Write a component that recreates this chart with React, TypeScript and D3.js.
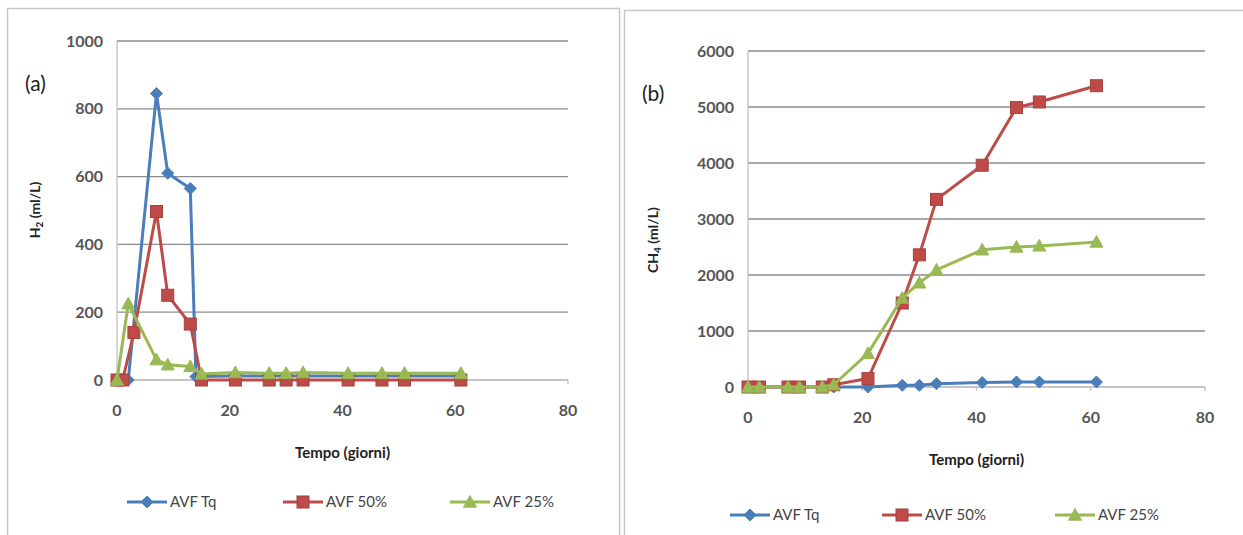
import React from "react";
import * as d3 from "d3";

// ---- Data (a): H2 ----
const daysTqA = [0, 2, 7, 9, 13, 14, 21, 27, 30, 33, 41, 47, 51, 61];
const tqA = [0, 0, 845, 610, 565, 10, 12, 12, 12, 12, 12, 12, 12, 12];
const days50A = [0, 1, 3, 7, 9, 13, 15, 21, 27, 30, 33, 41, 47, 51, 61];
const v50A = [0, 0, 140, 497, 250, 165, 0, 0, 0, 0, 0, 0, 0, 0, 0];
const days25A = [0, 2, 7, 9, 13, 15, 21, 27, 30, 33, 41, 47, 51, 61];
const v25A = [0, 225, 60, 45, 40, 18, 22, 20, 20, 22, 20, 20, 20, 20];

// ---- Data (b): CH4 ----
const daysB = [0, 2, 7, 9, 13, 15, 21, 27, 30, 33, 41, 47, 51, 61];
const tqB = [0, 0, 0, 0, 0, 0, 0, 30, 30, 60, 80, 90, 90, 90];
const v50B = [0, 0, 0, 0, 0, 40, 150, 1500, 2360, 3350, 3960, 4990, 5090, 5380];
const v25B = [0, 0, 0, 0, 0, 40, 600, 1590, 1860, 2090, 2450, 2500, 2520, 2590];

const xTicks = [0, 20, 40, 60, 80];
const yTicksA = [0, 200, 400, 600, 800, 1000];
const yTicksB = [0, 1000, 2000, 3000, 4000, 5000, 6000];
const seriesNames = ["AVF Tq", "AVF 50%", "AVF 25%"];

const COLORS = ["#4A7EBB", "#BE4B48", "#98B954"];
const FONT = "Lato, 'Open Sans', sans-serif";

type Pt = [number, number];

function Marker({ kind, x, y, color }: { kind: number; x: number; y: number; color: string }) {
  if (kind === 0) {
    const s = 6;
    return <path d={`M${x},${y - s}L${x + s},${y}L${x},${y + s}L${x - s},${y}Z`} fill={color} stroke={color} strokeWidth={1} />;
  }
  if (kind === 1) {
    const s = 6;
    return <rect x={x - s} y={y - s} width={2 * s} height={2 * s} fill={color} stroke={d3.color(color)!.darker(0.4).toString()} strokeWidth={1} />;
  }
  const s = 6.5;
  return <path d={`M${x},${y - s}L${x + s},${y + s * 0.8}L${x - s},${y + s * 0.8}Z`} fill={color} stroke={color} strokeWidth={1} />;
}

function Panel(props: {
  ox: number; oy: number; w: number; h: number;
  x0: number; x1: number; yTop: number; yBot: number; yMax: number; yTicks: number[];
  series: Pt[][]; label: string; yTitle: React.ReactNode; yTitleX: number; yTitleY: number;
  legendY: number; legendX: number[];
}) {
  const { ox, oy, w, h, x0, x1, yTop, yBot, yMax, yTicks, series, label, yTitle, yTitleX, yTitleY, legendY, legendX } = props;
  const x = d3.scaleLinear().domain([0, 80]).range([x0, x1]);
  const y = d3.scaleLinear().domain([0, yMax]).range([yBot, yTop]);
  const line = d3.line<Pt>().x((d) => x(d[0])).y((d) => y(d[1]));
  const midX = (x0 + x1) / 2;
  return (
    <g>
      <rect x={ox + 0.5} y={oy + 0.5} width={w} height={h} fill="#fff" stroke="#c8c8c8" strokeWidth={1.5} />
      {yTicks.map((t) => (
        <g key={t}>
          <line x1={x0} x2={x1} y1={y(t)} y2={y(t)} stroke={t === 0 ? "#b0b0b0" : "#8c8c8c"} strokeWidth={1.3} />
          <text x={x0 - 14} y={y(t)} dy="0.35em" textAnchor="end" fontFamily={FONT} fontSize={16} fontWeight={700} fill="#555">{t}</text>
        </g>
      ))}
      <line x1={x0} x2={x0} y1={yTop} y2={yBot + 4} stroke="#c0c0c0" strokeWidth={1.3} />
      {xTicks.map((t) => (
        <g key={t}>
          <line x1={x(t)} x2={x(t)} y1={yBot} y2={yBot + 4} stroke="#c0c0c0" strokeWidth={1.3} />
          <text x={x(t)} y={yBot + 36} textAnchor="middle" fontFamily={FONT} fontSize={16} fontWeight={700} fill="#555">{t}</text>
        </g>
      ))}
      <text x={midX} y={yBot + 78} textAnchor="middle" fontFamily={FONT} fontSize={15} fontWeight={700} fill="#222">Tempo (giorni)</text>
      <text transform={`translate(${yTitleX},${yTitleY}) rotate(-90)`} textAnchor="middle" fontFamily={FONT} fontSize={14} fontWeight={700} fill="#222">{yTitle}</text>
      <text x={ox + 18} y={yTop + 50} fontFamily={FONT} fontSize={21} fill="#222">{label}</text>
      {series.map((s, i) => (
        <g key={i}>
          <path d={line(s)!} fill="none" stroke={COLORS[i]} strokeWidth={3} strokeLinejoin="round" />
          {s.map((d, j) => (
            <Marker key={j} kind={i} x={x(d[0])} y={y(d[1])} color={COLORS[i]} />
          ))}
        </g>
      ))}
      {seriesNames.map((n, i) => (
        <g key={n}>
          <line x1={legendX[i]} x2={legendX[i] + 40} y1={legendY} y2={legendY} stroke={COLORS[i]} strokeWidth={3} />
          <Marker kind={i} x={legendX[i] + 20} y={legendY} color={COLORS[i]} />
          <text x={legendX[i] + 43} y={legendY} dy="0.35em" fontFamily={FONT} fontSize={15} fill="#444">{n}</text>
        </g>
      ))}
    </g>
  );
}

const zip = (a: number[], b: number[]): Pt[] => a.map((d, i) => [d, b[i]]);

export default function App() {
  const seriesA = [zip(daysTqA, tqA), zip(days50A, v50A), zip(days25A, v25A)];
  const seriesB = [zip(daysB, tqB), zip(daysB, v50B), zip(daysB, v25B)];
  return (
    <svg width={1243} height={535} style={{ position: "absolute", left: 0, top: 0, background: "#fff" }}>
      <Panel ox={7} oy={8} w={612} h={540} x0={117} x1={568} yTop={41} yBot={380} yMax={1000} yTicks={yTicksA}
        series={seriesA} label="(a)" yTitleX={40} yTitleY={210}
        yTitle={<>H<tspan fontSize={10} dy={3}>2</tspan><tspan dy={-3}> (ml/L)</tspan></>}
        legendY={502} legendX={[127, 283, 450]} />
      <Panel ox={624} oy={10} w={630} h={540} x0={748} x1={1205} yTop={51} yBot={387} yMax={6000} yTicks={yTicksB}
        series={seriesB} label="(b)" yTitleX={658} yTitleY={240}
        yTitle={<>CH<tspan fontSize={10} dy={3}>4</tspan><tspan dy={-3}> (ml/L)</tspan></>}
        legendY={515} legendX={[730, 882, 1055]} />
    </svg>
  );
}
